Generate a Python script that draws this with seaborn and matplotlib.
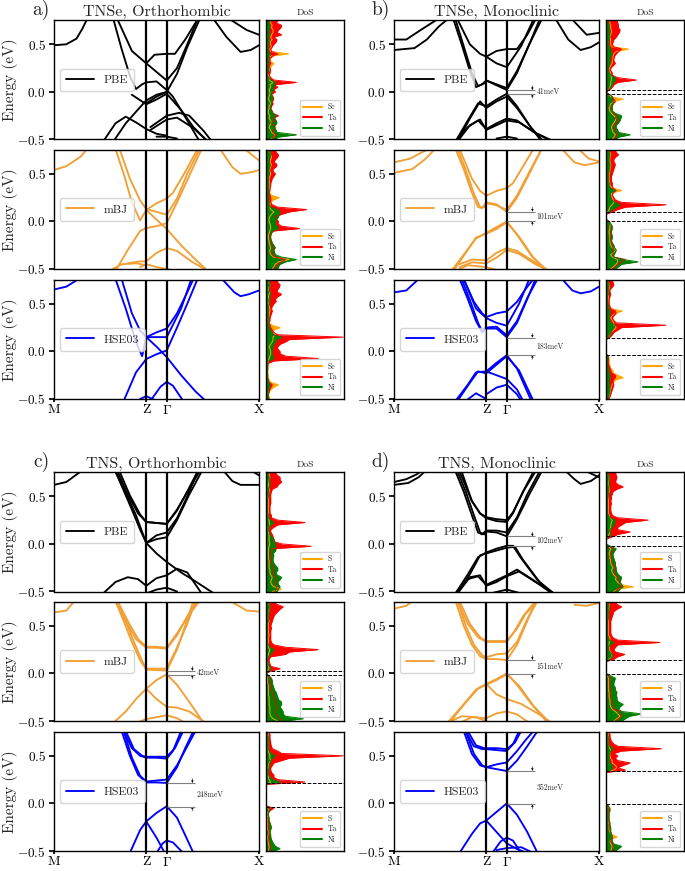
import numpy as np
import seaborn as sns
import matplotlib.pyplot as plt

# k-path, energy window
K_TICKS = [0.0, 0.45, 0.55, 1.0]
K_LABELS = ["M", "Z", r"$\Gamma$", "X"]
E_LIM = (-0.5, 0.75)
DOS_E = np.linspace(-0.5, 0.75, 51)

METHODS = ["PBE", "mBJ", "HSE03"]
METHOD_COLORS = ["black", "#f0a035", "blue"]
DOS_COLORS = ["orange", "red", "green"]

# ---- band structures: (k, E) pairs ----
A_PBE = [
    ([0, .06, .11, .14, .16], [.49, .50, .56, .67, .76]),
    ([.78, .84, .91, .96, 1], [.76, .58, .42, .44, .49]),
    ([.86, .94, 1], [.76, .65, .60]),
    ([.29, .33, .37, .40, .43, .45, .50, .55, .58, .65, .71], [.76, .45, .17, .03, .08, .10, .11, .02, -.05, -.30, -.52]),
    ([.31, .38, .45, .50, .55, .60, .65, .70], [.76, .43, .30, .21, .12, .25, .50, .76]),
    ([.45, .49, .55, .59, .64, .70], [.30, .39, .40, .40, .55, .76]),
    ([.45, .50, .55, .60, .65, .71], [-.12, -.05, 0, .19, .47, .76]),
    ([.38, .45, .50, .55, .62, .68, .75], [-.03, -.13, -.08, -.02, -.19, -.37, -.52]),
    ([.24, .30, .35, .40, .45, .50, .55], [-.52, -.33, -.26, -.32, -.39, -.44, -.46]),
    ([.29, .35, .42, .45, .50, .55], [-.52, -.33, -.16, -.09, -.03, 0]),
    ([.47, .55, .61, .66, .73, .77], [-.37, -.25, -.22, -.25, -.41, -.52]),
    ([.47, .55, .60, .68, .75], [-.40, -.29, -.27, -.38, -.52]),
    ([.50, .55, .60], [-.47, -.47, -.49]),
]
A_MBJ = [
    ([0, .06, .13, .16], [.54, .58, .68, .76]),
    ([.81, .87, .91, .97, 1], [.76, .57, .50, .52, .54]),
    ([.93, 1], [.76, .64]),
    ([.30, .34, .38, .42, .45, .50, .55, .58, .64, .70], [.76, .50, .20, .01, .12, .19, .24, .30, .52, .76]),
    ([.32, .37, .42, .45, .50, .55, .60, .65, .71], [.76, .45, .22, .13, .10, .07, .24, .50, .76]),
    ([.45, .50, .55, .62, .68, .75], [.12, .02, -.08, -.25, -.38, -.52]),
    ([.30, .36, .42, .45, .50, .55, .60, .66, .72], [-.52, -.30, -.10, -.07, -.05, -.02, .20, .48, .76]),
    ([.36, .42, .45, .50, .55, .60, .67, .75], [-.44, -.42, -.42, -.33, -.28, -.31, -.42, -.52]),
    ([.27, .33, .40, .45], [-.52, -.45, -.44, -.46]),
    ([.42, .45, .50, .55, .60], [-.48, -.45, -.48, -.50, -.52]),
]
A_HSE = [
    ([0, .06, .12], [.65, .68, .76]),
    ([.82, .88, .91, .95, 1], [.76, .62, .58, .60, .64]),
    ([.30, .35, .40, .43, .45, .50, .55, .60, .65, .68], [.76, .45, .10, -.05, .15, .20, .24, .40, .62, .76]),
    ([.33, .38, .42, .45, .50, .55, .62, .67], [.76, .40, .22, .15, .15, .15, .45, .76]),
    ([.45, .50, .55, .62, .69, .74], [.15, .05, -.06, -.25, -.42, -.52]),
    ([.34, .40, .45, .50, .55, .60, .65, .70], [-.52, -.22, -.08, -.03, .01, .25, .50, .76]),
    ([.47, .52, .55, .58, .63], [-.52, -.37, -.32, -.36, -.52]),
    ([.42, .45, .50], [-.50, -.47, -.52]),
]
B_PBE = [
    ([0, .06, .13, .21], [.55, .55, .65, .76]),
    ([0, .10, .16, .22, .26], [.44, .46, .55, .69, .76]),
    ([.79, .85, .91, .96, 1], [.76, .55, .44, .47, .52]),
    ([.87, .94, 1], [.76, .60, .62]),
    ([.29, .33, .37, .40, .43, .45, .50, .55, .60, .66, .71], [.76, .50, .22, .05, .08, .12, .07, .02, .20, .50, .76]),
    ([.30, .34, .38, .41, .44, .45, .50, .55, .60, .66, .72], [.76, .48, .20, .06, .09, .12, .08, .04, .22, .50, .76]),
    ([.31, .37, .42, .45, .50, .55, .62, .68], [.76, .50, .40, .37, .30, .26, .48, .76]),
    ([.45, .50, .55, .60, .65, .69], [.37, .43, .45, .45, .60, .76]),
    ([.30, .36, .41, .45, .50, .55, .60, .66, .72], [-.52, -.30, -.12, -.15, -.08, -.02, -.15, -.35, -.52]),
    ([.31, .37, .42, .45, .50, .55, .60, .67, .73], [-.52, -.28, -.10, -.17, -.10, -.05, -.17, -.38, -.52]),
    ([.30, .36, .41, .45, .50, .55, .60, .68, .77], [-.52, -.37, -.30, -.39, -.33, -.28, -.30, -.42, -.52]),
    ([.31, .37, .42, .45, .50, .55, .61, .69, .78], [-.52, -.35, -.29, -.40, -.35, -.30, -.32, -.43, -.52]),
    ([.50, .55, .60], [-.49, -.47, -.49]),
]
B_MBJ = [
    ([0, .08, .13, .17], [.62, .66, .72, .76]),
    ([0, .09, .15, .20], [.51, .55, .65, .76]),
    ([.82, .88, .93, 1], [.76, .62, .59, .62]),
    ([.90, .95, 1], [.76, .66, .63]),
    ([.30, .34, .38, .41, .43, .45, .50, .55, .60, .66, .72], [.76, .55, .30, .15, .14, .20, .18, .10, .25, .50, .76]),
    ([.31, .35, .39, .42, .44, .45, .50, .55, .60, .66, .72], [.76, .54, .29, .15, .15, .19, .17, .12, .27, .52, .76]),
    ([.32, .38, .42, .45, .50, .55, .58, .63, .68], [.76, .45, .32, .27, .32, .35, .40, .58, .76]),
    ([.28, .34, .40, .45, .50, .55, .60, .67, .74], [-.52, -.35, -.18, -.12, -.06, 0, -.14, -.36, -.52]),
    ([.29, .35, .40, .45, .50, .55, .61, .68, .75], [-.52, -.33, -.17, -.13, -.08, -.01, -.16, -.38, -.52]),
    ([.32, .38, .45, .50, .55, .60, .68, .75], [-.45, -.40, -.41, -.33, -.28, -.31, -.42, -.52]),
    ([.32, .38, .45, .50, .55, .61, .69, .76], [-.48, -.43, -.44, -.38, -.30, -.34, -.45, -.52]),
    ([.30, .36, .45, .52, .58], [-.52, -.46, -.48, -.52, -.52]),
]
B_HSE = [
    ([0, .06, .12], [.62, .64, .76]),
    ([.82, .87, .91, .96, 1], [.76, .64, .61, .63, .68]),
    ([.32, .36, .40, .43, .45, .50, .55, .60, .65, .69], [.76, .55, .32, .20, .24, .24, .15, .30, .55, .76]),
    ([.33, .37, .41, .43, .45, .50, .55, .60, .65, .70], [.76, .54, .30, .21, .25, .26, .17, .32, .56, .76]),
    ([.34, .39, .43, .45, .50, .55, .60, .64, .68], [.76, .52, .40, .36, .40, .42, .52, .65, .76]),
    ([.34, .40, .45, .50, .55, .61, .66], [.76, .45, .35, .30, .27, .50, .76]),
    ([.30, .36, .40, .45, .50, .55, .60, .67], [-.52, -.35, -.22, -.21, -.12, -.04, -.18, -.52]),
    ([.31, .37, .41, .45, .50, .55, .61, .68], [-.52, -.33, -.21, -.23, -.14, -.05, -.20, -.52]),
    ([.45, .50, .55, .60, .63], [-.21, -.25, -.29, -.40, -.52]),
    ([.45, .50, .55, .60, .62], [-.45, -.38, -.35, -.45, -.52]),
    ([.35, .40, .45], [-.52, -.44, -.50]),
]
C_PBE = [
    ([0, .06, .13], [.62, .65, .76]),
    ([.83, .87, .91, .96, 1], [.76, .66, .62, .62, .62]),
    ([.97, 1], [.76, .72]),
    ([.30, .34, .38, .42, .45, .50, .55, .62, .68, .78], [.76, .56, .36, .15, .01, -.10, -.19, -.30, -.38, -.52]),
    ([.30, .35, .40, .45, .50, .55, .60, .65, .70], [.76, .54, .30, .01, .09, .12, .27, .50, .76]),
    ([.45, .50, .55, .60, .66, .72], [.01, .05, .07, .25, .52, .76]),
    ([.31, .36, .41, .45, .50, .55, .60, .65, .70], [.76, .52, .32, .23, .22, .21, .35, .55, .76]),
    ([.32, .37, .42, .45, .50, .55, .60, .66, .71], [.76, .51, .31, .23, .22, .21, .36, .58, .76]),
    ([.24, .30, .36, .41, .45, .50, .55, .60, .65, .72], [-.52, -.40, -.35, -.37, -.44, -.36, -.33, -.26, -.30, -.52]),
    ([.45, .50, .55, .60], [-.52, -.48, -.46, -.50]),
]
C_MBJ = [
    ([0, .06, .10], [.64, .66, .76]),
    ([.86, .94, 1], [.76, .66, .65]),
    ([.30, .35, .40, .45, .50, .55, .60, .65, .70], [.76, .55, .36, .27, .27, .26, .40, .60, .76]),
    ([.31, .36, .41, .45, .50, .55, .60, .66, .71], [.76, .55, .36, .28, .28, .27, .42, .62, .76]),
    ([.30, .34, .38, .42, .45, .50, .55, .60, .64, .68], [.76, .55, .33, .14, .04, .035, .03, .25, .50, .76]),
    ([.31, .35, .39, .43, .45, .50, .55, .60, .65, .69], [.76, .55, .33, .13, .05, .05, .05, .27, .52, .76]),
    ([.29, .35, .40, .45, .50, .55, .60, .66, .73], [-.52, -.40, -.27, -.16, -.07, -.01, -.12, -.30, -.52]),
    ([.45, .50, .55, .60, .66, .74], [-.16, -.27, -.35, -.36, -.40, -.52]),
    ([.40, .45, .50, .55, .60, .64], [-.52, -.48, -.46, -.44, -.47, -.52]),
]
C_HSE = [
    ([.34, .38, .42, .45, .50, .55, .58, .62], [.76, .58, .50, .48, .48, .47, .55, .76]),
    ([.35, .39, .43, .45, .50, .55, .59, .63], [.76, .57, .50, .49, .49, .49, .58, .76]),
    ([.33, .37, .41, .45, .50, .55, .60, .64, .68], [.76, .50, .30, .22, .22, .215, .38, .58, .76]),
    ([.34, .38, .42, .45, .50, .55, .60, .65, .69], [.76, .48, .29, .23, .24, .25, .40, .60, .76]),
    ([.37, .42, .45, .50, .55, .60, .65, .68], [-.52, -.28, -.19, -.10, -.03, -.15, -.38, -.52]),
    ([.45, .50, .54], [-.19, -.36, -.52]),
    ([.50, .53, .55, .58, .63], [-.52, -.42, -.39, -.41, -.52]),
]
D_PBE = [
    ([0, .06, .11, .13], [.65, .68, .73, .76]),
    ([0, .07, .12, .15], [.62, .64, .70, .76]),
    ([.84, .88, .91, .96, 1], [.76, .68, .63, .66, .72]),
    ([.94, 1], [.76, .70]),
    ([.30, .34, .38, .41, .43, .45, .50, .55, .60, .65, .71], [.76, .55, .30, .12, .10, .14, .14, .12, .28, .52, .76]),
    ([.31, .35, .39, .42, .44, .45, .50, .55, .60, .66, .72], [.76, .55, .30, .12, .10, .13, .12, .08, .26, .52, .76]),
    ([.32, .38, .42, .45, .50, .55, .58, .63, .68], [.76, .45, .32, .28, .26, .25, .33, .55, .76]),
    ([.33, .38, .42, .45, .50, .55, .58, .63, .69], [.76, .45, .32, .27, .24, .23, .32, .55, .76]),
    ([.30, .36, .41, .45, .50, .55, .58, .62, .70, .77], [-.52, -.32, -.14, -.09, -.05, -.02, -.02, -.15, -.38, -.52]),
    ([.31, .37, .42, .45, .50, .55, .59, .63, .71, .78], [-.52, -.32, -.12, -.10, -.07, -.04, -.03, -.17, -.40, -.52]),
    ([.30, .36, .41, .45, .50, .55, .60, .68, .77], [-.52, -.37, -.34, -.43, -.38, -.33, -.27, -.38, -.52]),
    ([.31, .37, .42, .45, .50, .55, .61, .69, .78], [-.52, -.35, -.33, -.44, -.40, -.34, -.29, -.40, -.52]),
    ([.47, .55, .62], [-.52, -.48, -.52]),
]
D_MBJ = [
    ([0, .06, .09], [.68, .71, .76]),
    ([.88, .94, 1], [.72, .71, .74]),
    ([.31, .36, .41, .45, .50, .55, .59, .63, .69], [.76, .52, .38, .33, .33, .33, .45, .60, .76]),
    ([.32, .37, .42, .45, .50, .55, .60, .64, .70], [.76, .52, .38, .34, .34, .34, .47, .62, .76]),
    ([.30, .34, .38, .42, .45, .50, .55, .60, .65, .69], [.76, .50, .30, .18, .15, .15, .14, .30, .55, .76]),
    ([.31, .35, .39, .43, .45, .50, .55, .60, .65, .70], [.76, .50, .30, .19, .17, .20, .21, .33, .57, .76]),
    ([.26, .33, .40, .45, .50, .55, .60, .67, .75], [-.52, -.35, -.17, -.11, -.06, 0, -.12, -.32, -.52]),
    ([.27, .34, .41, .45, .50, .55, .61, .68, .76], [-.52, -.33, -.16, -.12, -.07, -.01, -.13, -.34, -.52]),
    ([.45, .50, .55, .62, .70, .77], [-.11, -.22, -.27, -.32, -.42, -.52]),
    ([.32, .38, .45, .50, .55, .60, .66], [-.52, -.46, -.47, -.42, -.40, -.43, -.52]),
    ([.26, .33, .40, .45], [-.52, -.45, -.46, -.50]),
]
D_HSE = [
    ([.35, .39, .43, .45, .50, .55, .58, .61], [.76, .60, .57, .57, .56, .55, .62, .76]),
    ([.36, .40, .44, .45, .50, .55, .59, .62], [.76, .61, .58, .58, .58, .57, .64, .76]),
    ([.34, .38, .42, .45, .50, .55, .60, .65, .70], [.76, .52, .40, .38, .36, .34, .45, .60, .76]),
    ([.35, .39, .43, .45, .50, .55, .60, .64, .68], [.76, .52, .40, .38, .41, .43, .55, .66, .76]),
    ([.32, .38, .42, .45, .50, .55, .60, .65, .70], [-.52, -.32, -.21, -.18, -.09, 0, -.12, -.30, -.52]),
    ([.45, .50, .55, .60, .65], [-.18, -.30, -.42, -.48, -.52]),
    ([.48, .52, .55, .58, .62], [-.52, -.40, -.36, -.39, -.52]),
    ([.50, .55, .62, .68], [-.49, -.47, -.46, -.52]),
]

# ---- projected DoS on DOS_E grid (-0.5..0.75 eV, 25 meV step): chalcogen, Ta, Ni ----
A_PBE_X = [.6, .9, 1.2, .7, .6, .4, .5, .7, .6, .4,
           .5, .3, .3, .4, .4, .6, .5, .3, .4, .5,
           .5, .4, .6, .5, .9, .4, .4, .3, .6, .5,
           .5, .7, 1.0, .5, .6, .5, 2.9, .6, .5, .7,
           .6, .5, .8, .6, .7, .9, .9, .7, .8, .6, .6]
A_PBE_TA = [1.0, .8, 1.3, .9, 1.0, 1.2, .9, .7, 1.1, .9,
            1.6, .9, .8, .6, .7, .9, .8, 1.0, .9, .7,
            1.2, 1.0, 1.5, 1.1, 3.9, 1.0, .6, .4, .5, .6,
            .5, .4, .6, .5, .5, .8, 1.5, .7, .6, .8,
            1.0, 1.3, 1.4, 1.0, 2.0, 1.4, 1.6, 1.9, 2.0, 1.3, 1.5]
A_PBE_NI = [1.2, 1.5, 3.9, 1.4, 1.3, 1.0, 1.2, 1.4, 1.3, 1.1,
            1.3, .9, .7, .6, .6, .7, .7, .9, .8, .6,
            .8, .9, 1.0, 1.1, 1.2, .6, .3, .2, .2, .3,
            .3, .2, .3, .3, .3, .4, .5, .3, .3, .3,
            .3, .4, .4, .3, .5, .4, .4, .5, .5, .4, .4]
A_MBJ_X = [.8, 1.0, 1.2, 1.6, 3.0, 1.0, .6, .5, .5, .6,
           .5, .4, .4, .3, .3, .4, .5, .6, .6, .5,
           .4, .4, .5, .7, 1.0, .6, .5, .5, .6, .9,
           1.7, .7, .5, .4, .4, .5, .5, .4, .4, .5,
           .6, .5, .5, .6, .7, .5, .6, .7, .6, .5, .5]
A_MBJ_TA = [1.0, 1.2, 1.5, 2.0, 2.5, 1.2, .8, .7, .9, .8,
            .8, .7, .6, .5, .5, .6, 1.0, 4.3, 2.0, 1.5,
            1.6, 1.3, 1.2, 2.0, 3.0, 5.2, 1.5, .8, .6, .6,
            .6, .5, .4, .5, .5, .6, .6, .7, .8, 1.0,
            1.2, .9, .9, 1.3, 1.4, 1.0, 1.2, 1.5, 1.6, 1.3, 1.2]
A_MBJ_NI = [1.5, 1.6, 1.8, 2.5, 3.9, 2.0, 1.2, 1.1, 1.0, 1.2,
            1.0, .8, .7, .6, .6, .7, .8, 1.6, 1.4, 1.2,
            1.2, 1.4, 1.6, 1.7, 1.8, 1.5, .5, .4, .3, .3,
            .3, .3, .3, .3, .3, .3, .3, .3, .3, .3,
            .4, .4, .4, .5, .5, .4, .4, .5, .6, .5, .5]
A_HSE_X = [.5, .4, .3, .4, .6, 1.0, 1.6, .6, .4, .3,
           .3, .2, .2, .3, .3, .3, .3, .4, .5, .6,
           .6, .5, .4, .6, .8, .9, .9, 1.2, .9, 1.0,
           1.8, .8, .4, .3, .3, .4, .4, .5, .5, .4,
           .3, .4, .4, .3, .4, .5, .3, .4, .5, .4, .4]
A_HSE_TA = [.4, .3, .3, .4, .5, .6, .8, .4, .3, .2,
            .2, .2, .2, .2, .2, .3, 1.0, 6.7, 2.5, 1.8,
            1.8, 1.5, 1.5, 1.8, 2.5, 3.0, 9.9, 1.5, 1.0, .8,
            .6, .5, .4, .5, .5, .6, .7, .8, .7, .8,
            1.0, 1.3, 1.2, 1.5, 2.0, 1.4, 1.5, 1.7, 1.8, 1.5, 1.4]
A_HSE_NI = [.3, .3, .3, .3, .3, .4, .5, .3, .3, .2,
            .2, .2, .2, .2, .2, .2, .3, 1.0, .9, .8,
            .8, .8, .9, 1.0, 1.2, 1.4, 2.0, .9, .8, .5,
            .4, .3, .3, .3, .3, .3, .3, .3, .3, .3,
            .4, .4, .5, .5, .6, .5, .4, .4, .5, .4, .4]

B_PBE_X = [.8, 1.0, 1.2, .9, .8, .7, .8, 1.0, 1.2, 1.3,
           1.0, .7, .5, .4, .5, .6, 1.0, 2.2, .6, .3,
           0, .3, .5, .6, .6, .7, .7, .6, .6, .5,
           .5, .6, .8, .8, .9, .9, 1.0, 1.3, 2.9, .7,
           .6, .6, .6, .5, .6, .7, .7, .6, .6, .5, .5]
B_PBE_TA = [1.0, 1.2, 1.4, 1.3, 1.2, 1.0, 1.0, 1.3, 1.6, 1.2,
            1.4, 1.0, .8, .7, .7, .9, 1.2, 1.0, .8, .4,
            0, .5, .8, 1.0, 1.5, 3.9, 1.5, .8, .8, .6,
            .6, .9, 1.2, 1.0, 1.0, 1.1, 1.3, 1.6, 2.0, 1.0,
            .8, .9, 1.0, 1.3, 1.5, 1.7, 1.8, 1.6, 1.6, 1.5, 1.4]
B_PBE_NI = [1.2, 1.6, 3.1, 1.6, 1.5, 1.3, 1.3, 1.6, 1.8, 1.9,
            2.0, 1.2, .8, .8, .8, .9, .9, .8, .8, .4,
            0, .3, .6, .8, 1.0, 1.2, 1.2, .6, .4, .3,
            .3, .4, .5, .5, .5, .6, .8, .6, .6, .4,
            .3, .3, .4, .5, .5, .4, .4, .4, .4, .3, .3]
B_MBJ_X = [.6, 1.0, 1.3, 1.5, 1.5, .8, .6, 1.0, 1.3, .8,
           .6, .5, .5, .5, .5, .4, .4, .5, .5, .6,
           .4, 0, 0, 0, .2, .4, .5, .8, 1.0, .9,
           .8, .7, .7, 2.0, .9, .5, .5, .4, .4, .4,
           .4, .5, .5, .6, .6, .5, .5, .5, .6, .5, .4]
B_MBJ_TA = [.8, 1.2, 1.5, 2.0, 2.5, 1.0, .9, .9, 1.0, .9,
            .8, .7, .6, .6, .6, .6, .6, .7, .7, .6,
            .4, 0, 0, 0, .8, 1.5, 2.5, 7.7, 2.0, 1.2,
            1.0, .8, .9, 1.3, .9, .8, .8, .7, .7, .7,
            .8, .9, 1.0, 1.1, 1.2, 1.0, 1.0, 1.2, 1.6, 1.3, 1.2]
B_MBJ_NI = [1.2, 1.6, 2.0, 4.1, 2.2, 1.0, 1.0, 1.2, 1.3, 1.1,
            1.0, .8, .7, .8, .8, .7, .7, .8, .8, .6,
            .3, 0, 0, 0, .4, .8, 1.3, 1.8, 1.2, .7,
            .6, .5, .6, 1.2, .5, .4, .4, .3, .3, .3,
            .3, .4, .4, .5, .5, .4, .4, .4, .5, .4, .4]
B_HSE_X = [.4, .4, .5, .6, .6, .7, .8, 1.0, 1.2, 2.2,
           1.5, .9, .9, .6, .5, .4, .4, .4, .3, 0,
           0, 0, 0, 0, 0, 0, .3, .5, .6, 1.0,
           1.3, 1.0, 1.0, .8, .6, .8, 1.2, 2.1, .6, .5,
           .4, .4, .3, .3, .3, .3, .4, .4, .4, .3, .3]
B_HSE_TA = [.4, .5, .6, .7, .8, .9, 1.0, .9, .9, 1.2,
            1.2, .7, .6, .5, .4, .3, .3, .3, .3, 0,
            0, 0, 0, 0, 0, 0, .5, .8, 1.0, 1.5,
            2.0, 7.7, 1.3, 1.0, .8, 1.0, 1.3, 1.2, .6, .5,
            .4, .4, .4, .5, .6, .5, .5, .8, 1.0, .9, .8]
B_HSE_NI = [.3, .3, .4, .5, .5, .4, .4, .4, .4, .5,
            .5, .4, .3, .3, .2, .2, .2, .3, .2, 0,
            0, 0, 0, 0, 0, 0, .3, .5, .6, .8,
            1.0, 1.2, .6, .5, .4, .4, .5, .5, .3, .3,
            .2, .2, .2, .2, .3, .3, .3, .3, .4, .3, .3]

C_PBE_X = [.8, 2.0, 1.0, .7, .6, .7, .8, .6, .5, .5,
           .4, .4, .4, .4, .3, .3, .3, .3, .3, .4,
           .5, .4, .4, .4, .4, .3, .3, .4, .5, .4,
           .4, .3, .3, .3, .3, .3, .3, .3, .3, .3,
           .3, .3, .4, .4, .3, .3, .4, .4, .5, .4, .4]
C_PBE_TA = [1.2, 1.3, 1.4, 1.2, 1.2, 1.3, 1.3, 1.0, .8, .9,
            .9, .8, .7, .6, .6, .6, .6, .7, .9, 5.8,
            2.0, 1.0, 1.0, .9, .8, .6, .6, 1.0, 1.5, 5.0,
            1.5, .7, .7, .5, .5, .5, .5, .6, .6, .6,
            .6, .6, .7, .8, 1.4, 1.6, 2.0, 1.8, 1.8, 1.4, 1.2]
C_PBE_NI = [1.4, 1.6, 1.8, 1.6, 1.5, 1.8, 2.0, 1.4, 1.3, 1.5,
            1.5, 1.2, 1.0, .9, .9, 1.0, .9, 1.2, 1.3, 1.2,
            1.2, 1.1, 1.0, .7, .5, .4, .3, .4, .6, 1.0,
            .6, .3, .3, .2, .2, .2, .2, .2, .2, .2,
            .3, .3, .3, .3, .4, .5, .5, .4, .4, .3, .3]
C_MBJ_X = [1.5, .9, .6, .5, .5, .5, .5, .4, .4, .4,
           .4, .3, .3, .3, .3, .3, .2, .2, .2, .1,
           0, .2, .4, .3, .3, .2, .2, .3, .3, .4,
           .5, .3, .3, .3, .3, .3, .4, .3, .3, .3,
           .3, .3, .4, .3, .3, .3, .4, .4, .5, .4, .4]
C_MBJ_TA = [2.0, 1.8, 1.5, 1.3, 1.2, 1.3, 1.4, 1.2, 1.3, 1.1,
            1.0, .9, .8, .7, .6, .6, .5, .5, .5, .3,
            0, .6, 1.8, .6, .5, .4, .4, .6, 2.5, 3.0,
            6.7, 2.5, 1.0, .7, .6, .6, .6, .6, .6, .7,
            .6, .7, .8, .9, 1.0, 1.2, 1.5, 1.8, 2.2, 1.4, 1.0]
C_MBJ_NI = [2.5, 4.8, 2.5, 2.2, 2.2, 2.0, 1.8, 2.0, 2.0, 1.6,
            1.5, 1.4, 1.3, 1.1, 1.0, .9, .8, .8, .7, .4,
            0, .4, .6, .4, .3, .2, .2, .3, .5, .8,
            1.0, .5, .3, .2, .2, .2, .2, .2, .2, .2,
            .2, .2, .3, .3, .3, .3, .4, .4, .5, .4, .3]
C_HSE_X = [.3, .4, .4, .3, .3, .2, .2, .3, .3, .2,
           .2, .2, .2, .2, .2, .2, .2, .3, .3, 0,
           0, 0, 0, 0, 0, 0, 0, 0, 0, .6,
           .4, .3, .3, .3, .3, .3, .3, .4, .6, .5,
           .5, .4, .3, .3, .3, .3, .3, .3, .3, .3, .3]
C_HSE_TA = [.5, .5, .6, .5, .4, .4, .4, .4, .4, .4,
            .4, .3, .3, .3, .3, .3, .3, .5, 1.0, 0,
            0, 0, 0, 0, 0, 0, 0, 0, 0, 5.0,
            1.5, 1.0, 1.0, .7, .6, .6, .8, 1.0, 2.0, 3.0,
            9.9, 2.0, 1.5, .8, .7, .6, .6, .5, .5, .5, .4]
C_HSE_NI = [1.0, 1.8, 1.2, 1.0, .8, .7, .6, .6, .5, .6,
            .7, .6, .5, .4, .4, .3, .3, .4, .4, 0,
            0, 0, 0, 0, 0, 0, 0, 0, 0, 1.8,
            .8, .5, .3, .3, .3, .4, .4, .5, .6, .8,
            1.2, .6, .4, .3, .3, .3, .3, .3, .3, .2, .2]

D_PBE_X = [1.0, 1.5, 3.5, 1.8, 1.5, 1.2, 1.3, 1.0, .8, .7,
           .9, .7, .6, .6, .5, .5, .4, .5, .6, .3,
           0, 0, 0, .2, .4, .5, .5, .6, .6, .7,
           .8, .5, .4, .3, .3, .3, .3, .3, .3, .3,
           .3, .3, .4, .4, .4, .3, .3, .4, .4, .3, .3]
D_PBE_TA = [1.2, 1.5, 2.0, 1.8, 1.8, 1.6, 1.5, 1.2, 1.0, 1.1,
            1.2, 1.0, .8, .7, .7, .6, .6, .8, .9, .4,
            0, 0, 0, .8, 1.5, 3.1, 1.5, 1.5, 2.0, 2.5,
            5.4, 1.5, .8, .7, .6, .6, .6, .7, .6, .7,
            .7, .8, .9, 1.4, 2.2, 1.5, 1.2, 1.3, 1.4, 1.3, 1.2]
D_PBE_NI = [1.5, 1.8, 2.2, 2.0, 1.8, 1.9, 2.0, 1.6, 1.4, 1.3,
            1.3, 1.2, 1.2, 1.1, 1.0, .9, .9, 1.1, 1.3, .6,
            0, 0, 0, .4, .6, .5, .5, .8, 1.0, 1.1,
            1.2, .5, .3, .2, .2, .2, .2, .2, .2, .2,
            .3, .3, .3, .3, .4, .4, .4, .4, .4, .3, .3]
D_MBJ_X = [1.0, 1.4, 1.8, 1.5, 1.2, .8, .6, .5, .5, .5,
           .4, .4, .4, .3, .3, .3, .3, .3, .3, .2,
           0, 0, 0, 0, 0, 0, .4, .8, .7, .6,
           .4, .4, .4, .4, .5, .5, .3, .3, .3, .3,
           .3, .3, .3, .3, .3, .3, .3, .4, .4, .4, .3]
D_MBJ_TA = [1.2, 1.6, 2.0, 1.8, 1.8, 1.0, .8, .8, .8, .7,
            .7, .6, .6, .6, .5, .5, .5, .5, .5, .3,
            0, 0, 0, 0, 0, 0, 1.0, 1.5, 2.4, 1.2,
            1.0, 1.2, 1.5, 6.9, 1.5, .9, .7, .6, .6, .6,
            .6, .6, .6, .7, .8, .9, 1.0, 1.4, 2.0, 1.4, 1.2]
D_MBJ_NI = [2.0, 2.5, 3.0, 4.6, 2.0, 1.6, 1.8, 2.2, 1.6, 1.4,
            1.4, 1.3, 1.4, 1.2, 1.2, 1.0, 1.0, 1.1, 1.2, .6,
            0, 0, 0, 0, 0, 0, .5, .8, .8, .5,
            .3, .3, .5, 1.0, .4, .3, .2, .2, .2, .2,
            .2, .2, .2, .3, .3, .3, .3, .4, .4, .3, .3]
D_HSE_X = [.6, .7, .8, .6, .5, .8, 1.4, .7, .5, .4,
           .4, .4, .3, .3, .3, .3, .3, .3, .3, .2,
           0, 0, 0, 0, 0, 0, 0, 0, 0, 0,
           0, 0, 0, 0, 1.0, 1.4, 1.2, .8, .8, .6,
           .5, .5, .6, .5, .4, .3, .3, .3, .3, .3, .3]
D_HSE_TA = [.8, .9, 1.0, .8, .6, .7, .8, .7, .6, .5,
            .5, .4, .4, .3, .3, .3, .3, .3, .3, .2,
            0, 0, 0, 0, 0, 0, 0, 0, 0, 0,
            0, 0, 0, 0, 2.5, 1.5, 2.2, 3.1, 1.5, 1.2,
            1.5, 1.0, 2.0, 7.1, 1.5, 1.0, .7, .6, .5, .5, .4]
D_HSE_NI = [1.2, 1.6, 2.0, 1.0, .8, .8, .8, .7, .6, .6,
            .6, .5, .5, .4, .4, .4, .4, .5, .5, .3,
            0, 0, 0, 0, 0, 0, 0, 0, 0, 0,
            0, 0, 0, 0, .6, .8, .8, .5, .4, .4,
            .4, .5, .6, .9, .4, .3, .3, .3, .3, .2, .2]

# ---- band gaps (CBM, VBM, label), None = metallic ----
A_GAPS = [None, None, None]
B_GAPS = [(0.020, -0.021, "41meV"), (0.103, 0.002, "101meV"), (0.145, -0.038, "183meV")]
C_GAPS = [None, (0.028, -0.014, "42meV"), (0.215, -0.033, "248meV")]
D_GAPS = [(0.080, -0.022, "102meV"), (0.143, -0.008, "151meV"), (0.342, -0.010, "352meV")]

PANELS = [
    ("a)", "TNSe, Orthorhombic", "Se", 0, 0, [A_PBE, A_MBJ, A_HSE],
     [(A_PBE_X, A_PBE_TA, A_PBE_NI), (A_MBJ_X, A_MBJ_TA, A_MBJ_NI), (A_HSE_X, A_HSE_TA, A_HSE_NI)], A_GAPS),
    ("b)", "TNSe, Monoclinic", "Se", 340, 0, [B_PBE, B_MBJ, B_HSE],
     [(B_PBE_X, B_PBE_TA, B_PBE_NI), (B_MBJ_X, B_MBJ_TA, B_MBJ_NI), (B_HSE_X, B_HSE_TA, B_HSE_NI)], B_GAPS),
    ("c)", "TNS, Orthorhombic", "S", 0, 452, [C_PBE, C_MBJ, C_HSE],
     [(C_PBE_X, C_PBE_TA, C_PBE_NI), (C_MBJ_X, C_MBJ_TA, C_MBJ_NI), (C_HSE_X, C_HSE_TA, C_HSE_NI)], C_GAPS),
    ("d)", "TNS, Monoclinic", "S", 340, 452, [D_PBE, D_MBJ, D_HSE],
     [(D_PBE_X, D_PBE_TA, D_PBE_NI), (D_MBJ_X, D_MBJ_TA, D_MBJ_NI), (D_HSE_X, D_HSE_TA, D_HSE_NI)], D_GAPS),
]

sns.set_theme(style="ticks")
plt.rcParams.update({
    "font.family": ["cmr10", "DejaVu Serif"],
    "mathtext.fontset": "cm",
    "axes.formatter.use_mathtext": True,
    "axes.edgecolor": "black",
    "axes.linewidth": 1.0,
    "xtick.color": "black",
    "ytick.color": "black",
})

W, H = 685, 871
fig = plt.figure(figsize=(W / 100, H / 100), dpi=100)


def rect(left, top, w, h):
    return [left / W, 1 - (top + h) / H, w / W, h / H]


ROW_TOPS = [20.5, 150, 280]
ROW_H = 119

for tag, title, chal, x0, y0, bands_list, dos_list, gaps in PANELS:
    for r in range(3):
        top = y0 + ROW_TOPS[r]
        ax = fig.add_axes(rect(x0 + 54, top, 205, ROW_H))
        axd = fig.add_axes(rect(x0 + 266, top, 78, ROW_H))
        color = METHOD_COLORS[r]

        for i, (k, e) in enumerate(bands_list[r]):
            sns.lineplot(x=k, y=e, ax=ax, color=color, lw=1.35, sort=False,
                         estimator=None, label=METHODS[r] if i == 0 else None)
        for kv in K_TICKS[1:3]:
            ax.axvline(kv, color="black", lw=1.6, zorder=3)
        ax.set_xlim(0, 1)
        ax.set_ylim(*E_LIM)
        ax.set_yticks([-0.5, 0.0, 0.5])
        ax.tick_params(axis="y", labelsize=9.5, length=3.5, pad=2.5)
        if r == 2:
            ax.set_xticks(K_TICKS, K_LABELS)
            ax.tick_params(axis="x", labelsize=10, length=2.5, pad=1)
        else:
            ax.set_xticks([])
        ax.set_xlabel("")
        if x0 == 0:
            ax.set_ylabel("Energy (eV)", fontsize=11)
            ax.yaxis.set_label_coords(-0.175, 0.5)
        else:
            ax.set_ylabel("")
        ax.legend(loc="center left", fontsize=8.5, handlelength=2.4, borderpad=0.5,
                  fancybox=True, framealpha=0.8)

        # DoS
        for vals, c, name in zip(dos_list[r], DOS_COLORS, [chal, "Ta", "Ni"]):
            assert len(vals) == len(DOS_E), (tag, r, name, len(vals))
            axd.fill_betweenx(DOS_E, 0, vals, color=c, lw=0)
            axd.plot(vals, DOS_E, color=c, lw=0.7, label=name)
        axd.set_xlim(0, 10)
        axd.set_ylim(*E_LIM)
        axd.set_xticks([])
        axd.set_yticks([])
        leg = axd.legend(loc="lower right", fontsize=5.5, handlelength=2.4,
                         borderpad=0.4, labelspacing=0.3, framealpha=0.8)
        for h in leg.get_lines():
            h.set_linewidth(1.5)

        g = gaps[r]
        if g is not None:
            cbm, vbm, txt = g
            ax.hlines([cbm, vbm], 0.55, 0.69, color="grey", lw=0.8, zorder=4)
            arrow = dict(arrowstyle="-|>", lw=0.4, color="black",
                         mutation_scale=3, shrinkA=0, shrinkB=0)
            ax.annotate("", xy=(0.675, cbm), xytext=(0.675, cbm + 0.045), arrowprops=arrow)
            ax.annotate("", xy=(0.675, vbm), xytext=(0.675, vbm - 0.045), arrowprops=arrow)
            ax.text(0.695, (cbm + vbm) / 2, txt, fontsize=5.5, va="center")
            for e in (cbm, vbm):
                axd.axhline(e, ls="--", color="black", lw=0.7)

        if r == 0:
            ax.set_title(title, fontsize=11.5, pad=3)
            axd.set_title("DoS", fontsize=7, pad=4)
            fig.text((x0 + 41) / W, 1 - (y0 + 10) / H, tag, fontsize=14,
                     ha="center", va="center")

fig.savefig("out.png", dpi=100)
